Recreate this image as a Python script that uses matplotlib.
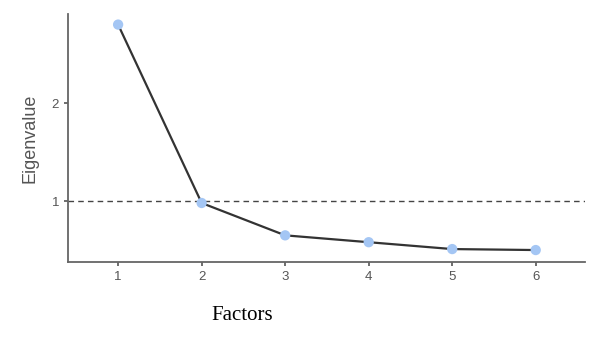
import matplotlib
matplotlib.use("Agg")
import matplotlib.pyplot as plt

factors = [1, 2, 3, 4, 5, 6]
eigenvalues = [2.80, 0.98, 0.65, 0.58, 0.51, 0.50]
yticks = [1, 2]

fig = plt.figure(figsize=(5.97, 3.40), dpi=100)
ax = fig.add_axes([0.1139, 0.2294, 0.866, 0.7294])

ax.axhline(1, color="#444444", linestyle=(0, (4, 3)), linewidth=1.0, zorder=1)
ax.plot(factors, eigenvalues, color="#333333", linewidth=1.6, zorder=2)
ax.scatter(factors, eigenvalues, s=55, color="#a4c6f4", zorder=3, edgecolors="none")

ax.set_xlim(0.40, 6.59)
ax.set_ylim(0.378, 2.908)
ax.set_xticks(factors)
ax.set_yticks(yticks)
ax.tick_params(axis="both", colors="#555555", labelcolor="#555555", labelsize=9.5,
               width=1.2, length=3)
for lab in ax.get_xticklabels() + ax.get_yticklabels():
    lab.set_family("Liberation Sans")

for s in ["top", "right"]:
    ax.spines[s].set_visible(False)
for s in ["left", "bottom"]:
    ax.spines[s].set_color("#666666")
    ax.spines[s].set_linewidth(1.3)

ax.set_ylabel("Eigenvalue", family="Liberation Sans", fontsize=13, color="#555555", labelpad=9)
fig.text(242/597, 1 - 316/340, "Factors", family="Liberation Serif", fontsize=15,
         ha="center", va="center", color="black")

fig.savefig("out.png", dpi=100)
